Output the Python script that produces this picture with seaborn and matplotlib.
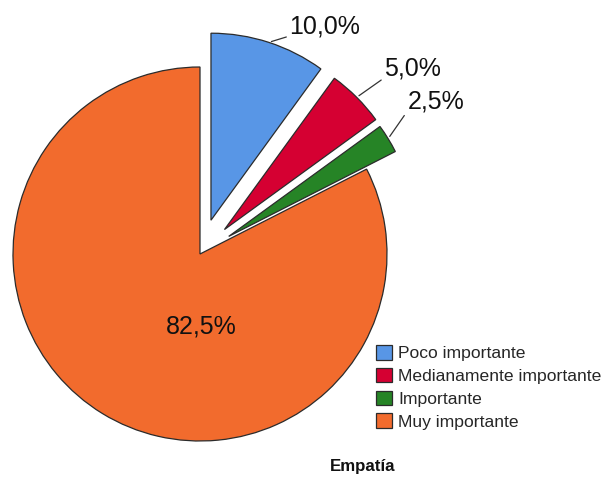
import numpy as np
import matplotlib
matplotlib.use("Agg")
import matplotlib.pyplot as plt
import seaborn as sns

# datos
categorias = ["Poco importante", "Medianamente importante", "Importante", "Muy importante"]
porcentajes = [10.0, 5.0, 2.5, 82.5]
etiquetas = ["10,0%", "5,0%", "2,5%", "82,5%"]
colores = ["#5896E6", "#D50032", "#268426", "#F26B2D"]
separar = [0.19, 0.185, 0.18, 0.0]
titulo = "Empatía"

sns.set_theme(style="white")
plt.rcParams["font.family"] = ["Liberation Sans", "DejaVu Sans"]

fig = plt.figure(figsize=(6.04, 4.82), dpi=100)
ax = fig.add_axes([0, 0, 1, 1])

wedges, _ = ax.pie(porcentajes, colors=colores, explode=separar, startangle=90,
                   counterclock=False, radius=1,
                   wedgeprops=dict(edgecolor="#2b2b2b", linewidth=0.9))

# centro del pastel en pixeles: (200, 254), radio 187
r_px = 187.0
ax.set_xlim(-200 / r_px, (604 - 200) / r_px)
ax.set_ylim((254 - 482) / r_px, 254 / r_px)
ax.set_aspect("equal")

# etiquetas exteriores con linea guia
desplaz = [(15, 11.5), (20, 21), (14, 27)]
for i in range(3):
    w = wedges[i]
    ang = np.deg2rad((w.theta1 + w.theta2) / 2)
    cx, cy = w.center
    xy = (cx + np.cos(ang), cy + np.sin(ang))
    ax.annotate(etiquetas[i], xy=xy, xytext=desplaz[i], textcoords="offset points",
                ha="left", va="center", fontsize=18, color="#111111",
                arrowprops=dict(arrowstyle="-", color="#333333", lw=0.9,
                                shrinkA=0, shrinkB=2, relpos=(0, 0.1)))

ax.text(0.005, -0.39, etiquetas[3], ha="center", va="center", fontsize=18, color="#111111")

leg = fig.legend(wedges, categorias, loc="upper left",
                 bbox_to_anchor=(376 / 604, 1 - 345 / 482),
                 frameon=False, fontsize=12.6, borderpad=0, borderaxespad=0,
                 handlelength=0.9, handleheight=0.9, handletextpad=0.35,
                 labelspacing=0.37)

fig.text(363 / 604, 1 - 467 / 482, titulo, ha="center", va="center",
         fontsize=12.2, fontweight="bold", color="#111111")

fig.savefig("out.png", dpi=100)
